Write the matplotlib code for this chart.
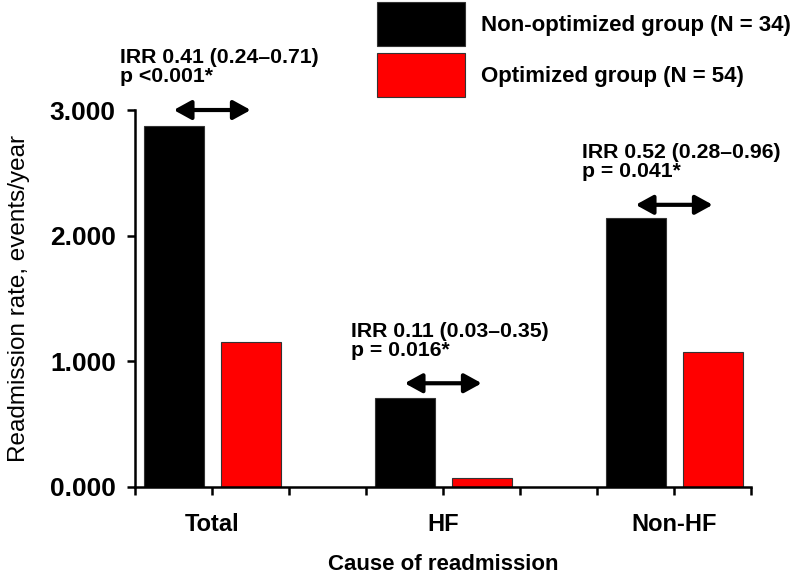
import numpy as np
import matplotlib
matplotlib.use("Agg")
import matplotlib.pyplot as plt
from matplotlib.ticker import FixedLocator, FixedFormatter

plt.rcParams['font.family'] = ['Liberation Sans', 'DejaVu Sans']

# data
categories = ['Total', 'HF', 'Non-HF']
non_optimized = [2.869, 0.709, 2.143]
optimized = [1.151, 0.072, 1.071]
irr_text = ['IRR 0.41 (0.24\u20130.71)\np <0.001*',
            'IRR 0.11 (0.03\u20130.35)\np = 0.016*',
            'IRR 0.52 (0.28\u20130.96)\np = 0.041*']
arrow_level = [3.0, 0.824, 2.245]
legend_labels = ['Non-optimized group (N = 34)', 'Optimized group (N = 54)']

fig = plt.figure(figsize=(8, 5.76), dpi=100)
ax = fig.add_axes([0.169, 0.155, 0.77, 0.654])

# each group takes 3 slots: black bar, red bar, empty
x0 = np.arange(len(categories)) * 3
wid = 0.78
b1 = ax.bar(x0 + 0.5, non_optimized, wid, color='black', edgecolor='#333333', lw=0.8,
            label=legend_labels[0])
b2 = ax.bar(x0 + 1.5, optimized, wid, color='#ff0000', edgecolor='#333333', lw=0.8,
            label=legend_labels[1])

ax.set_xlim(0, 8)
ax.set_ylim(0, 3)
ax.set_yticks([0, 1, 2, 3])
ax.set_yticklabels(['0.000', '1.000', '2.000', '3.000'], fontsize=19, fontweight='bold')
ax.xaxis.remove_overlapping_locs = False
ax.xaxis.set_major_locator(FixedLocator(np.arange(0, 9)))
ax.xaxis.set_major_formatter(FixedFormatter([''] * 9))
ax.xaxis.set_minor_locator(FixedLocator(x0 + 1))
ax.xaxis.set_minor_formatter(FixedFormatter(categories))
ax.tick_params(axis='x', which='minor', length=0, pad=19, labelsize=17)
for t in ax.get_xticklabels(minor=True):
    t.set_fontweight('bold')
ax.tick_params(axis='both', which='major', direction='out', length=6, width=1.8)
ax.tick_params(axis='y', pad=8)

for s in ['top', 'right']:
    ax.spines[s].set_visible(False)
for s in ['left', 'bottom']:
    ax.spines[s].set_linewidth(1.8)

ax.set_ylabel('Readmission rate, events/year', fontsize=17.5, labelpad=14)
ax.set_xlabel('Cause of readmission', fontsize=16, fontweight='bold', labelpad=13)

# IRR annotations with double-headed arrows
for i in range(len(categories)):
    ax.annotate('', xy=(x0[i] + 0.5, arrow_level[i]), xytext=(x0[i] + 1.5, arrow_level[i]),
                arrowprops=dict(arrowstyle='<|-|>,head_length=0.4,head_width=0.22',
                                color='black', lw=3, mutation_scale=26,
                                shrinkA=0, shrinkB=0),
                annotation_clip=False)
    ax.text(x0[i] - 0.2, arrow_level[i] + 0.22, irr_text[i], fontsize=15.3,
            fontweight='bold', ha='left', va='baseline', linespacing=1.0)

fig.legend(handles=[b1, b2], loc='upper left', bbox_to_anchor=(0.454, 1.019),
           frameon=False, prop={'weight': 'bold', 'size': 16},
           handlelength=4.0, handleheight=2.67, labelspacing=0.3,
           handletextpad=0.72, borderpad=0.1)

fig.savefig('out.png', dpi=100)
